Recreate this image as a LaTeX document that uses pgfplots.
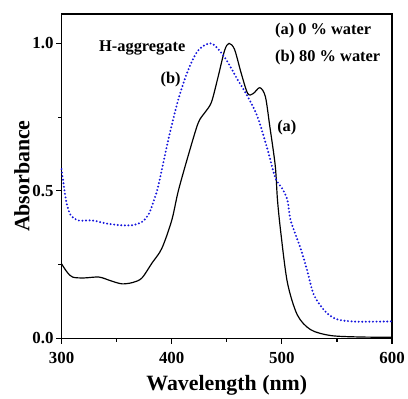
\documentclass[border=0pt]{standalone}
\usepackage{fontspec}
\setmainfont{Liberation Serif}
\usepackage{pgfplots}
\pgfplotsset{compat=1.18}
\definecolor{dotblue}{RGB}{20,20,220}
\begin{document}
\begin{tikzpicture}
\begin{axis}[
  name=ax,
  scale only axis,
  width=333pt, height=327pt,
  xmin=300, xmax=600, ymin=0, ymax=1.1,
  xtick={300,400,500,600}, ytick={0,0.5,1.0},
  major tick length=0pt,
  axis line style={line width=1.4pt},
  tick style={draw=none},
  /pgf/number format/assume math mode=true,
  ticklabel style={font=\fontsize{17}{17}\selectfont\bfseries},
  xticklabel style={yshift=-10pt},
  yticklabel style={xshift=-4.5pt, /pgf/number format/fixed, /pgf/number format/fixed zerofill, /pgf/number format/precision=1},
  xlabel={Wavelength (nm)}, ylabel={Absorbance},
  label style={font=\fontsize{22}{22}\selectfont\bfseries},
  xlabel style={at={(axis description cs:0.5,-0.143)}, anchor=center},
  ylabel style={at={(axis description cs:-0.12,0.5)}, anchor=center},
  clip=false,
]
\addplot[black, line width=1.2pt, smooth, tension=0.5] coordinates {
(300,0.253)(305,0.225)(310,0.208)(320,0.205)(334,0.208)(345,0.195)(355,0.185)(365,0.19)(373,0.205)(382,0.255)(391,0.305)(400,0.40)(406,0.50)(415,0.62)(424,0.73)(430,0.765)(436,0.80)(442,0.885)(448,0.976)(452,1.0)(457,0.98)(463,0.90)(469,0.83)(474,0.83)(480,0.85)(485,0.82)(489,0.72)(494,0.585)(496,0.47)(499,0.36)(505,0.19)(514,0.08)(526,0.03)(544,0.01)(570,0.005)(600,0.004)
};
\addplot[dotblue, line width=2.2pt, line cap=round, dash pattern=on 0pt off 3.6pt, smooth, tension=0.5] coordinates {
(300,0.574)(304,0.47)(308,0.42)(315,0.40)(328,0.40)(340,0.39)(350,0.385)(358,0.383)(366,0.385)(373,0.395)(379,0.42)(384,0.47)(388,0.52)(397,0.675)(406,0.81)(415,0.91)(424,0.976)(436,1.0)(448,0.953)(460,0.876)(469,0.82)(478,0.75)(487,0.64)(494,0.545)(500,0.51)(505,0.47)(508,0.40)(517,0.305)(523,0.23)(529,0.148)(539,0.093)(550,0.065)(568,0.057)(600,0.058)
};
\pgfplotsinvokeforeach{300,400,500,600}{\draw[line width=1.1pt] (axis cs:#1,0) -- ([yshift=-6pt]axis cs:#1,0);}
\pgfplotsinvokeforeach{350,450,550}{\draw[line width=1.1pt] (axis cs:#1,0) -- ([yshift=-4pt]axis cs:#1,0);}
\pgfplotsinvokeforeach{0,0.5,1.0}{\draw[line width=1.1pt] (axis cs:300,#1) -- ([xshift=-6pt]axis cs:300,#1);}
\pgfplotsinvokeforeach{0.25,0.75}{\draw[line width=1.1pt] (axis cs:300,#1) -- ([xshift=-4pt]axis cs:300,#1);}
\node[font=\fontsize{16.5}{16.5}\selectfont\bfseries, anchor=west, inner sep=0pt] at (axis cs:334,0.983) {H-aggregate};
\node[font=\fontsize{16.5}{16.5}\selectfont\bfseries, inner sep=0pt] at (axis cs:399,0.876) {(b)};
\node[font=\fontsize{16.5}{16.5}\selectfont\bfseries, inner sep=0pt] at (axis cs:504.5,0.715) {(a)};
\node[font=\fontsize{16.5}{16.5}\selectfont\bfseries, anchor=west, inner sep=0pt] at (axis cs:493.7,1.042) {(a) 0 \% water};
\node[font=\fontsize{16.5}{16.5}\selectfont\bfseries, anchor=west, inner sep=0pt] at (axis cs:493.7,0.953) {(b) 80 \% water};
\end{axis}
\path ([xshift=-62pt,yshift=-60pt]ax.south west) rectangle ([xshift=13pt,yshift=14pt]ax.north east);
\end{tikzpicture}
\end{document}
